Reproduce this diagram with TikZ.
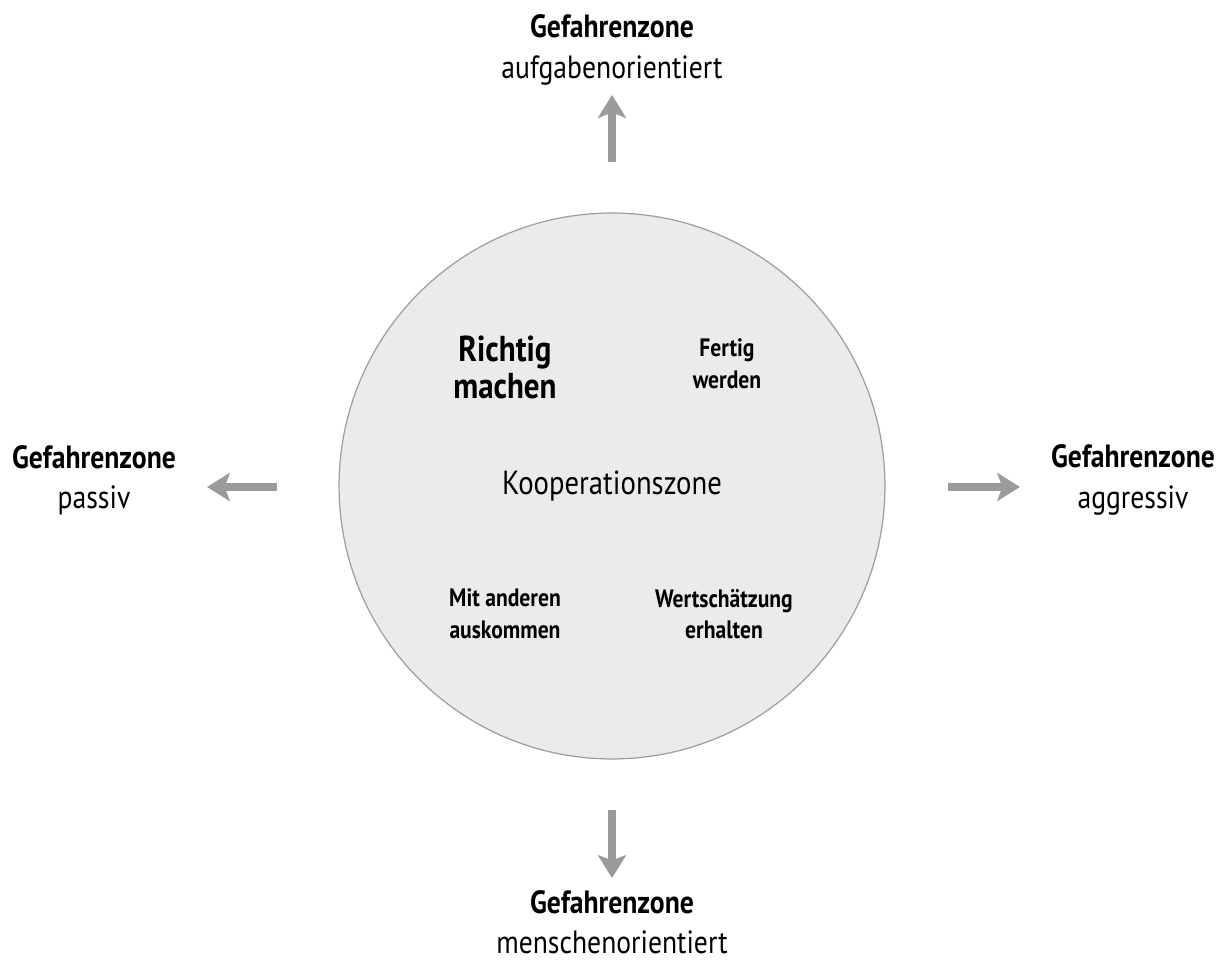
\documentclass[tikz,border=0pt]{standalone}
\usepackage{fontspec}
\setmainfont{PT Sans}[FakeStretch=0.86]
\usepackage{xcolor}
\usetikzlibrary{arrows.meta}
\definecolor{zonefill}{HTML}{EBEBEB}
\definecolor{zoneline}{HTML}{9E9E9E}
\definecolor{arrowgray}{HTML}{9B9B9B}

\begin{document}
\begin{tikzpicture}[x=0.02cm,y=-0.02cm,
  danger/.style={align=center,inner sep=0pt,font=\fontsize{18.3}{23}\selectfont},
  inner/.style={align=center,font=\fontsize{14.3}{18}\selectfont\bfseries},
  push/.style={arrowgray,line width=5pt,-{Stealth[length=13pt,width=16pt,inset=3pt]}}]
% 1 unit = 1 px of the 1226 x 962 reference
\useasboundingbox (0,0) rectangle (1226,962);
\node[circle,draw=zoneline,fill=zonefill,line width=0.7pt,minimum size=10.92cm,
  font=\fontsize{19}{22}\selectfont] (coop) at (612,486) {Kooperationszone};
\node[align=center,font=\fontsize{20.5}{21}\selectfont\bfseries] (right) at (505,367) {Richtig\\machen};
\node[inner] (done) at (727,364) {Fertig\\werden};
\node[inner] (along) at (505,614) {Mit anderen\\auskommen};
\node[inner] (esteem) at (724,614) {Wertschätzung\\erhalten};
% danger zones round the circle
\node[danger] (task) at (612,50) {\textbf{Gefahrenzone}\\aufgabenorientiert};
\node[danger] (passive) at (94,480) {\textbf{Gefahrenzone}\\passiv};
\node[danger] (aggro) at (1133,480) {\textbf{Gefahrenzone}\\aggressiv};
\node[danger] (people) at (612,922) {\textbf{Gefahrenzone}\\menschenorientiert};
\coordinate (upTail) at (612,162);   \coordinate (upTip) at (612,95);
\coordinate (leftTail) at (277,487); \coordinate (leftTip) at (207,487);
\coordinate (rightTail) at (948,487); \coordinate (rightTip) at (1020,487);
\coordinate (downTail) at (612,810); \coordinate (downTip) at (612,878);
\foreach \a in {up,left,right,down}
  {\draw[push] (\a Tail) -- (\a Tip);}
\end{tikzpicture}
\end{document}
